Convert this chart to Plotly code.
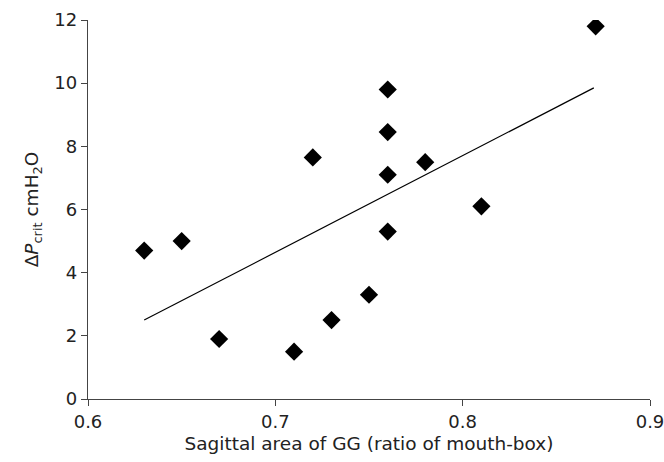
import plotly.graph_objects as go

x_vals = [0.63, 0.65, 0.67, 0.71, 0.72, 0.73, 0.75, 0.76, 0.76, 0.76, 0.76, 0.78, 0.81, 0.871]
y_vals = [4.7, 5.0, 1.9, 1.5, 7.65, 2.5, 3.3, 9.8, 8.45, 7.1, 5.3, 7.5, 6.1, 11.8]
fit_x = [0.63, 0.87]
fit_y = [2.5, 9.85]
x_ticks = [0.6, 0.7, 0.8, 0.9]
y_ticks = [0, 2, 4, 6, 8, 10, 12]

fig = go.Figure()
fig.add_trace(go.Scatter(x=fit_x, y=fit_y, mode="lines",
                         line=dict(color="black", width=1.2), showlegend=False))
fig.add_trace(go.Scatter(x=x_vals, y=y_vals, mode="markers",
                         marker=dict(symbol="diamond", size=14, color="black"),
                         showlegend=False))

tick_font = dict(family="DejaVu Sans", size=18, color="#222")
title_font = dict(family="DejaVu Sans", size=18.5, color="#222")
fig.update_layout(
    width=664, height=462,
    margin=dict(l=88, r=14, t=20, b=63, autoexpand=False),
    plot_bgcolor="white", paper_bgcolor="white",
    font=dict(family="DejaVu Sans", size=17, color="#222"),
    xaxis=dict(range=[0.6, 0.9], tickvals=x_ticks, ticktext=["0.6", "0.7", "0.8", "0.9"],
               showgrid=False, zeroline=False, showline=True, linecolor="#444", linewidth=1.3,
               ticks="outside", ticklen=6, tickcolor="#444", tickfont=tick_font, automargin=False,
               ticklabeloverflow="allow",
               title=dict(text="Sagittal area of GG (ratio of mouth-box)", font=title_font, standoff=6)),
    yaxis=dict(range=[0, 12], tickvals=y_ticks,
               showgrid=False, zeroline=False, showline=True, linecolor="#444", linewidth=1.3,
               ticks="outside", ticklen=6, tickcolor="#444", tickfont=tick_font, automargin=False,
               title=dict(text="Δ<i>P</i><sub>crit</sub> cmH<sub>2</sub>O", font=title_font, standoff=10)),
)
fig.write_html("out.html", config={"displayModeBar": False},
               post_script="document.body.style.margin='0';document.body.style.overflow='hidden';")
